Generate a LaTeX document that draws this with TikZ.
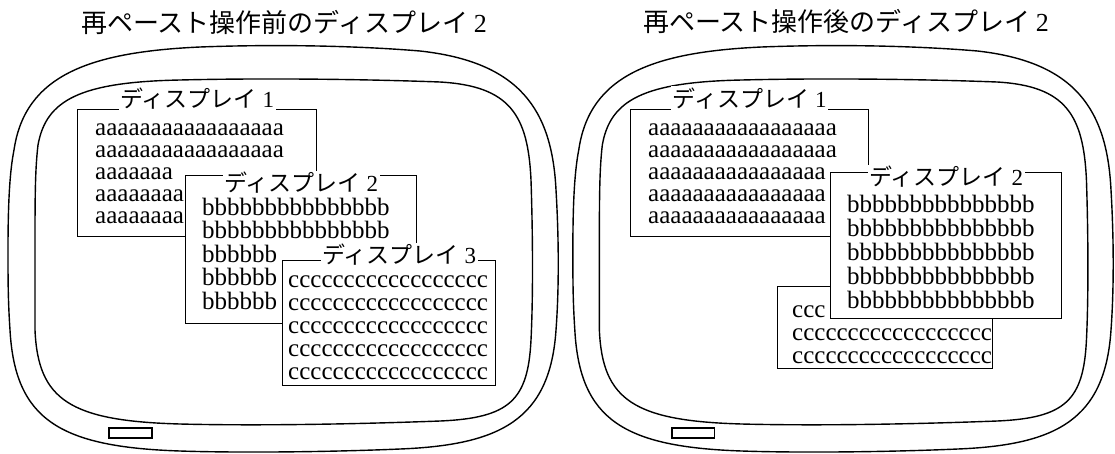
\documentclass[tikz,border=0pt]{standalone}
\usepackage{fontspec}
\setmainfont{Liberation Serif}
\newfontfamily\jpfont{Noto Sans CJK JP}
\usetikzlibrary{positioning}
\tikzstyle{frame} = [line width=1.4pt]
\tikzstyle{winbox} = [rectangle, draw=black, line width=1.4pt, fill=white, inner sep=0pt, anchor=north west]
\tikzstyle{wintitle} = [fill=white, inner sep=1.5pt, font=\fontsize{23pt}{25pt}\selectfont]
\tikzstyle{rowtext} = [inner sep=0pt, anchor=base west, font=\fontsize{25pt}{23pt}\selectfont]
\tikzstyle{heading} = [font=\fontsize{26pt}{28pt}\selectfont\jpfont]
\newcommand{\dispname}[1]{{\jpfont ディスプレイ} #1}
\newcommand{\tvframe}{%
  % outer casing
  \draw[frame] (8,250) .. controls (8,200) and (10,170) .. (14,150)
    .. controls (25,75) and (90,52) .. (200,47)
    .. controls (280,44) and (360,46) .. (420,51)
    .. controls (520,62) and (552,110) .. (556,190)
    .. controls (559,240) and (559,290) .. (556,330)
    .. controls (550,420) and (500,445) .. (400,449)
    .. controls (330,452) and (240,453) .. (180,451)
    .. controls (60,447) and (15,420) .. (10,330)
    .. controls (8,300) and (8,280) .. (8,250) -- cycle;
  % screen
  \draw[frame] (35,250) .. controls (35,200) and (35,170) .. (38,145)
    .. controls (46,100) and (80,82) .. (180,80)
    .. controls (260,78) and (360,79) .. (440,82)
    .. controls (510,86) and (528,115) .. (531,180)
    .. controls (533,240) and (533,300) .. (531,340)
    .. controls (528,400) and (510,418) .. (440,421)
    .. controls (360,424) and (260,426) .. (180,424)
    .. controls (70,421) and (38,400) .. (35,330) -- cycle;
  \draw[frame] (109,428) rectangle (152,438);
}

\begin{document}
\begin{tikzpicture}[x=1pt,y=-1pt]
    \useasboundingbox (0,0) rectangle (1115,453);
    % monitors
    \tvframe
    \begin{scope}[shift={(565,0)},xscale=0.982]
        \tvframe
    \end{scope}
    \node[heading] (h1) at (284,22) {再ペースト操作前のディスプレイ {\rmfamily 2}};
    \node[heading] (h2) at (846,22) {再ペースト操作後のディスプレイ {\rmfamily 2}};

    % before
    \node[winbox, minimum width=239pt, minimum height=127pt] (la) at (77,109) {};
    \node[wintitle, anchor=south] (la-t) at ([yshift=-2pt]la.north) {\dispname{1}};
    \foreach \r [count=\k] in {aaaaaaaaaaaaaaaaa,aaaaaaaaaaaaaaaaa,aaaaaaa,aaaaaaaa,aaaaaaaa}
        \node[rowtext] (la\k) at (95,{135+22*(\k-1)}) {\r};
    \node[winbox, minimum width=231pt, minimum height=148pt] (lb) at (185,175) {};
    \node[wintitle] (lb-t) at ([yshift=-8pt]lb.north) {\dispname{2}};
    \foreach \r [count=\k] in {bbbbbbbbbbbbbbb,bbbbbbbbbbbbbbb,bbbbbb,bbbbbb,bbbbbb}
        \node[rowtext] (lb\k) at (202,{215+23.5*(\k-1)}) {\r};
    \node[winbox, minimum width=213pt, minimum height=125pt] (lc) at (282,260) {};
    \node[wintitle] (lc-t) at ([xshift=10pt,yshift=5pt]lc.north) {\dispname{3}};
    \foreach \k in {1,...,5}
        \node[rowtext] (lc\k) at (288,{287+23*(\k-1)}) {cccccccccccccccccc};

    % after
    \node[winbox, minimum width=238pt, minimum height=127pt] (ra) at (630,109) {};
    \node[wintitle, anchor=south] (ra-t) at ([yshift=-2pt]ra.north) {\dispname{1}};
    \foreach \r [count=\k] in {aaaaaaaaaaaaaaaaa,aaaaaaaaaaaaaaaaa,aaaaaaaaaaaaaaaa,aaaaaaaaaaaaaaaa,aaaaaaaaaaaaaaaa}
        \node[rowtext] (ra\k) at (648,{135+22*(\k-1)}) {\r};
    \node[winbox, minimum width=215pt, minimum height=82pt] (rc) at (777,286) {};
    \foreach \r [count=\k] in {ccc,cccccccccccccccccc,cccccccccccccccccc}
        \node[rowtext] (rc\k) at (792,{317+23*(\k-1)}) {\r};
    \node[winbox, minimum width=231pt, minimum height=146pt] (rb) at (830,172) {};
    \node[wintitle] (rb-t) at ([yshift=-5pt]rb.north) {\dispname{2}};
    \foreach \k in {1,...,5}
        \node[rowtext] (rb\k) at (847,{212+24*(\k-1)}) {bbbbbbbbbbbbbbb};
\end{tikzpicture}
\end{document}
